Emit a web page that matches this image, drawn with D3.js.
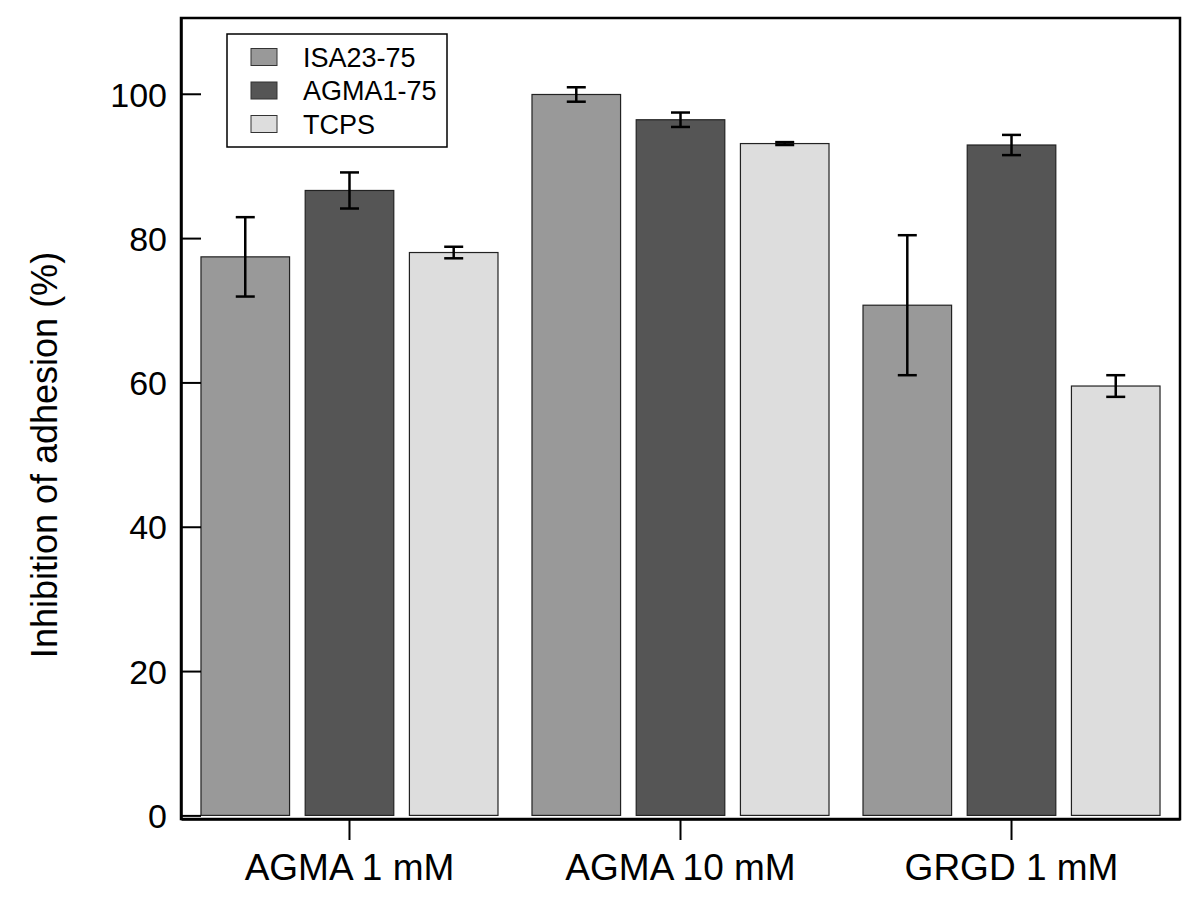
<!DOCTYPE html>
<html>
<head>
<meta charset="utf-8">
<script src="https://cdn.jsdelivr.net/npm/d3@7"></script>
<style>
  body { margin: 0; background: #fff; }
  text { font-family: "Liberation Sans", Arial, Helvetica, sans-serif; fill: #000; }
</style>
</head>
<body>
<div class="chart"></div>
<script>
// data
var groups = ["AGMA 1 mM", "AGMA 10 mM", "GRGD 1 mM"];
var series = ["ISA23-75", "AGMA1-75", "TCPS"];
var colors = ["#999999", "#555555", "#dddddd"];
var isaVals = [77.4, 99.9, 70.7];
var agmaVals = [86.6, 96.4, 92.9];
var tcpsVals = [78.0, 93.1, 59.5];
var isaErr = [5.5, 1.0, 9.7];
var agmaErr = [2.5, 1.0, 1.4];
var tcpsErr = [0.8, 0.2, 1.5];
var yTicks = [0, 20, 40, 60, 80, 100];

var svgWidth = 1200;
var svgHeight = 915;

var margin = { top: 18, right: 20, bottom: 96, left: 181 };
var width = svgWidth - margin.left - margin.right;
var height = svgHeight - margin.top - margin.bottom;

var svg = d3.select(".chart")
  .append("svg")
  .attr("width", svgWidth)
  .attr("height", svgHeight);

var chartGroup = svg.append("g")
  .attr("transform", `translate(${margin.left}, ${margin.top})`);

// build rows
var values = [isaVals, agmaVals, tcpsVals];
var errs = [isaErr, agmaErr, tcpsErr];
var data = [];
groups.forEach(function(g, gi) {
  series.forEach(function(s, si) {
    data.push({ group: g, series: s, value: values[si][gi], err: errs[si][gi], color: colors[si] });
  });
});

// scales
var x0 = d3.scaleBand()
  .domain(groups)
  .range([0, width])
  .paddingOuter(0.009);

var x1 = d3.scaleBand()
  .domain(series)
  .range([17, x0.bandwidth() - 17])
  .paddingInner(0.15);

var y = d3.scaleLinear()
  .domain([-0.5, 110.5])
  .range([height, 0]);

// bars
chartGroup.selectAll("rect.bar")
  .data(data)
  .enter()
  .append("rect")
  .attr("class", "bar")
  .attr("x", d => x0(d.group) + x1(d.series))
  .attr("y", d => y(d.value))
  .attr("width", x1.bandwidth())
  .attr("height", d => y(0) - y(d.value))
  .attr("fill", d => d.color)
  .attr("stroke", "#222")
  .attr("stroke-width", 1.2);

// error bars
var eb = chartGroup.selectAll("g.err")
  .data(data)
  .enter()
  .append("g")
  .attr("class", "err")
  .attr("transform", d => `translate(${x0(d.group) + x1(d.series) + x1.bandwidth() / 2}, 0)`)
  .attr("stroke", "#000")
  .attr("stroke-width", 2.5);

eb.append("line")
  .attr("y1", d => y(d.value + d.err))
  .attr("y2", d => y(d.value - d.err));
eb.append("line")
  .attr("x1", -9.5).attr("x2", 9.5)
  .attr("y1", d => y(d.value + d.err))
  .attr("y2", d => y(d.value + d.err));
eb.append("line")
  .attr("x1", -9.5).attr("x2", 9.5)
  .attr("y1", d => y(d.value - d.err))
  .attr("y2", d => y(d.value - d.err));

// axes
var leftAxis = d3.axisLeft(y).tickValues(yTicks).tickSizeInner(-20).tickSizeOuter(0).tickPadding(14);
var bottomAxis = d3.axisBottom(x0).tickSizeInner(21).tickSizeOuter(0).tickPadding(14);

var yAxisG = chartGroup.append("g").call(leftAxis);
yAxisG.selectAll("text").style("font-size", "34px").attr("dy", "0.36em");

var xAxisG = chartGroup.append("g")
  .attr("transform", `translate(0, ${height})`)
  .call(bottomAxis);
xAxisG.selectAll("text").style("font-size", "37px").attr("dy", "0.71em");

chartGroup.selectAll(".domain").attr("stroke", "#000").attr("stroke-width", 2.5);
chartGroup.selectAll(".tick line").attr("stroke", "#000").attr("stroke-width", 2);

// frame
chartGroup.append("rect")
  .attr("width", width)
  .attr("height", height)
  .attr("fill", "none")
  .attr("stroke", "#000")
  .attr("stroke-width", 2.5);

// legend
var legend = chartGroup.append("g")
  .attr("transform", "translate(46, 16)");

legend.append("rect")
  .attr("width", 220)
  .attr("height", 113)
  .attr("fill", "#fff")
  .attr("stroke", "#000")
  .attr("stroke-width", 1.5);

var items = legend.selectAll("g.item")
  .data(series)
  .enter()
  .append("g")
  .attr("class", "item")
  .attr("transform", (d, i) => `translate(24, ${23 + i * 33.5})`);

items.append("rect")
  .attr("y", -8.5)
  .attr("width", 26)
  .attr("height", 17)
  .attr("fill", (d, i) => colors[i])
  .attr("stroke", "#333")
  .attr("stroke-width", 1);

items.append("text")
  .attr("x", 52)
  .attr("dy", "0.36em")
  .style("font-size", "27px")
  .text(d => d);

// y axis label
svg.append("text")
  .attr("transform", "rotate(-90)")
  .attr("x", -455)
  .attr("y", 57)
  .attr("text-anchor", "middle")
  .style("font-size", "36px")
  .text("Inhibition of adhesion (%)");
</script>
</body>
</html>
